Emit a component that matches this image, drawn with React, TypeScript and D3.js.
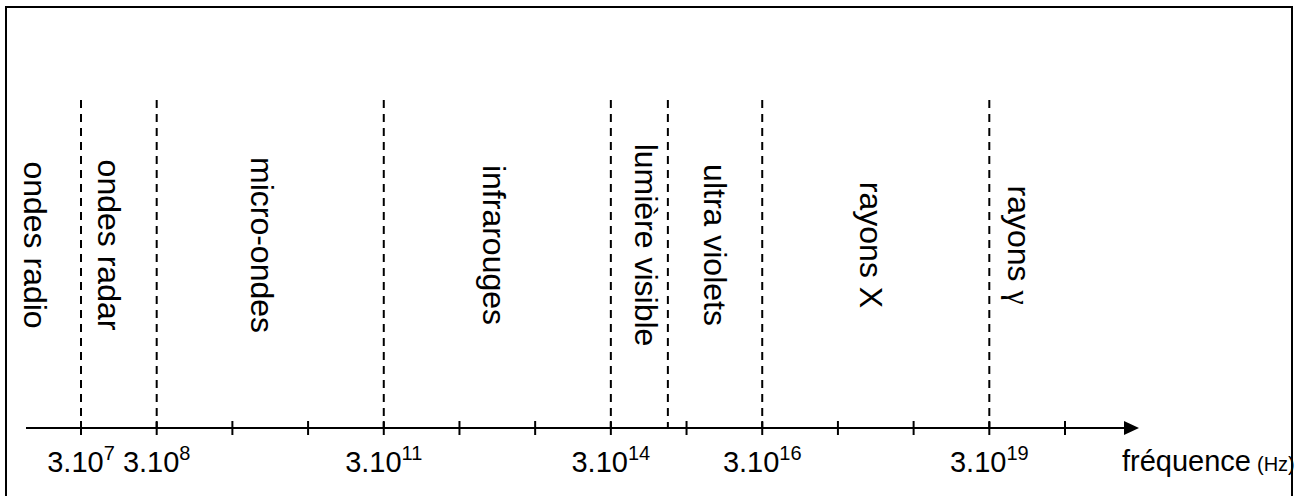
import * as d3 from 'd3'
import { useEffect, useRef } from 'react'

// band limits (Hz), left to right
const boundaries = [3e7, 3e8, 3e11, 3e14, 1.7e15, 3e16, 3e19]
// band names and where each name sits on the frequency axis
const bandNames = [
  'ondes radio',
  'ondes radar',
  'micro-ondes',
  'infrarouges',
  'lumière visible',
  'ultra violets',
  'rayons X',
  'rayons γ',
]
const bandLabelFreq = [5.3e6, 5e7, 5.3e9, 6.2e12, 6.3e14, 5.1e15, 5.8e17, 5.3e19]
// one tick per decade, 3.10^n
const tickExponents = [7, 8, 9, 10, 11, 12, 13, 14, 15, 16, 17, 18, 19, 20]
const labelledExponents = [7, 8, 11, 14, 16, 19]

const W = 1306
const H = 496

const App = () => {
  const svgRef = useRef<SVGSVGElement>(null)

  useEffect(() => {
    document.body.style.margin = '0'
    const svg = d3.select(svgRef.current)
    svg.selectAll('*').remove()

    const font = 'Liberation Sans, Arial, Helvetica, sans-serif'
    const axisY = 428

    const x = d3.scaleLog().domain([3e7, 3e20]).range([81, 1065])

    // frame
    svg
      .append('rect')
      .attr('x', 6)
      .attr('y', 7)
      .attr('width', 1286)
      .attr('height', 500)
      .attr('fill', 'none')
      .attr('stroke', '#000')
      .attr('stroke-width', 2)

    // dashed band limits
    svg
      .append('g')
      .selectAll('line')
      .data(boundaries)
      .enter()
      .append('line')
      .attr('x1', (d) => x(d))
      .attr('x2', (d) => x(d))
      .attr('y1', 100)
      .attr('y2', axisY)
      .attr('stroke', '#000')
      .attr('stroke-width', 2)
      .attr('stroke-dasharray', '8,6')

    // band names, vertical (greek letter in a serif face, like the Symbol font)
    const names = svg
      .append('g')
      .selectAll('text')
      .data(bandNames)
      .enter()
      .append('text')
      .attr('transform', (_, i) => `translate(${x(bandLabelFreq[i])},245) rotate(90)`)
      .attr('text-anchor', 'middle')
      .style('font-family', font)
      .style('font-size', '32px')
      .attr('fill', '#000')
    names.each(function (d) {
      const t = d3.select(this)
      const greek = d.match(/[\u0370-\u03ff]/)
      if (!greek) {
        t.text(d)
        return
      }
      t.append('tspan').text(d.slice(0, greek.index))
      t.append('tspan').style('font-family', 'Liberation Serif, serif').text(greek[0])
    })

    // axis line + arrow
    svg
      .append('line')
      .attr('x1', 26)
      .attr('x2', 1126)
      .attr('y1', axisY)
      .attr('y2', axisY)
      .attr('stroke', '#000')
      .attr('stroke-width', 2)
    svg
      .append('path')
      .attr('d', `M1124,${axisY - 7} L1139,${axisY} L1124,${axisY + 7} Z`)
      .attr('fill', '#000')

    // ticks
    svg
      .append('g')
      .selectAll('line')
      .data(tickExponents)
      .enter()
      .append('line')
      .attr('x1', (d) => x(3 * Math.pow(10, d)))
      .attr('x2', (d) => x(3 * Math.pow(10, d)))
      .attr('y1', axisY - 7)
      .attr('y2', axisY + 7)
      .attr('stroke', '#000')
      .attr('stroke-width', 2)

    // tick labels 3.10^n
    const lbl = svg
      .append('g')
      .selectAll('text')
      .data(labelledExponents)
      .enter()
      .append('text')
      .attr('x', (d) => x(3 * Math.pow(10, d)))
      .attr('y', 472)
      .attr('text-anchor', 'middle')
      .style('font-family', font)
      .style('font-size', '29px')
      .attr('fill', '#000')
    lbl.append('tspan').text('3.10')
    lbl
      .append('tspan')
      .attr('dy', -12)
      .style('font-size', '20px')
      .text((d) => String(d))

    // axis title
    svg
      .append('text')
      .attr('x', 1122)
      .attr('y', 471)
      .style('font-family', font)
      .style('font-size', '29px')
      .attr('fill', '#000')
      .text('fréquence')
    svg
      .append('text')
      .attr('x', 1257)
      .attr('y', 471)
      .style('font-family', font)
      .style('font-size', '20px')
      .attr('fill', '#000')
      .text('(Hz)')
  }, [])

  return (
    <svg
      ref={svgRef}
      width={W}
      height={H}
      style={{ display: 'block', background: '#fff' }}
    ></svg>
  )
}

export default App
